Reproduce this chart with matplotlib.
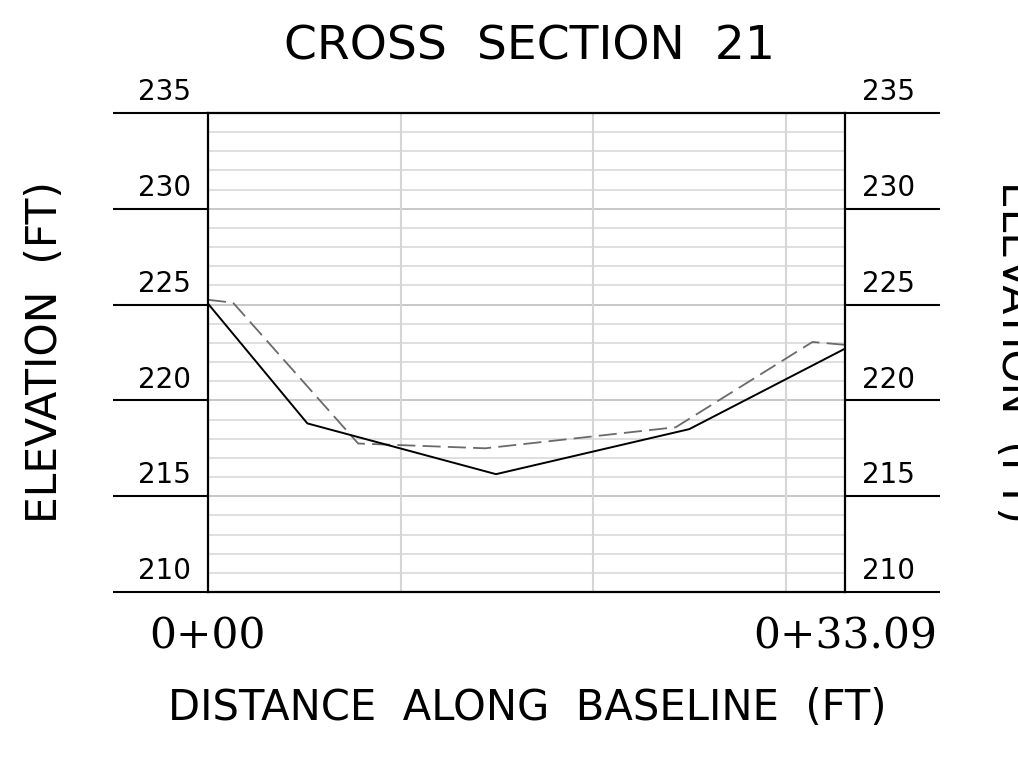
import numpy as np
import matplotlib
matplotlib.use("Agg")
import matplotlib.pyplot as plt
import matplotlib.transforms as mtransforms

# Cross section 21 survey data (station in ft, elevation in ft)
station_existing = [0.0, 5.16, 14.96, 25.0, 33.09]
elev_existing = [225.05, 218.8, 216.15, 218.5, 222.7]

station_design = [0.0, 1.3, 7.8, 14.4, 24.3, 31.4, 33.09]
elev_design = [225.25, 225.1, 217.75, 217.5, 218.6, 223.05, 222.9]

y_ticks = [210, 215, 220, 225, 230, 235]
x_ticks = [0, 33.09]
x_tick_labels = ["0+00", "0+33.09"]

fig = plt.figure(figsize=(10.18, 7.61), dpi=100)
ax = fig.add_axes([208/1018, 1 - 592/761, 637/1018, 479/761])

# grid: every foot vertically, 10 ft horizontally
for y in np.arange(210, 236, 1):
    col = "#c4c4c4" if y % 5 == 0 else "#dcdcdc"
    ax.axhline(y, color=col, lw=1.3, zorder=0)
for x in [10, 20, 30]:
    ax.axvline(x, color="#d6d6d6", lw=1.5, zorder=0)

ax.plot(station_design, elev_design, color="#6a6a6a", lw=1.3,
        dashes=(10, 4), zorder=2)
ax.plot(station_existing, elev_existing, color="black", lw=1.4, zorder=3)

ax.set_xlim(0, 33.09)
ax.set_ylim(210, 235)

for s in ax.spines.values():
    s.set_linewidth(1.6)
    s.set_color("black")

ax.set_yticks(y_ticks)
ax.tick_params(axis="y", which="both", left=True, right=True, length=68.5,
               width=1.5, direction="out", labelleft=False, labelright=False)
ax.set_xticks(x_ticks)
ax.set_xticklabels(x_tick_labels, family="DejaVu Serif", fontsize=30.5)
ax.tick_params(axis="x", length=0, pad=17)

trans = mtransforms.blended_transform_factory(ax.transAxes, ax.transData)
for v in y_ticks:
    ax.text(-0.027, v + 0.35, str(v), transform=trans, ha="right",
            va="bottom", fontsize=20, family="DejaVu Sans")
    ax.text(1.027, v + 0.35, str(v), transform=trans, ha="left",
            va="bottom", fontsize=20, family="DejaVu Sans")

fig.text(530/1018, 1 - 47/761, "CROSS  SECTION  21", ha="center",
         va="center", fontsize=34, family="DejaVu Sans")
fig.text(527/1018, 1 - 708/761, "DISTANCE  ALONG  BASELINE  (FT)",
         ha="center", va="center", fontsize=30, family="DejaVu Sans")
fig.text(45/1018, 1 - 352/761, "ELEVATION  (FT)", ha="center",
         va="center", rotation=90, fontsize=30.5, family="DejaVu Sans")
fig.text(1014/1018, 1 - 352/761, "ELEVATION  (FT)", ha="center",
         va="center", rotation=-90, fontsize=30.5, family="DejaVu Sans")

fig.savefig("out.png", dpi=100)
